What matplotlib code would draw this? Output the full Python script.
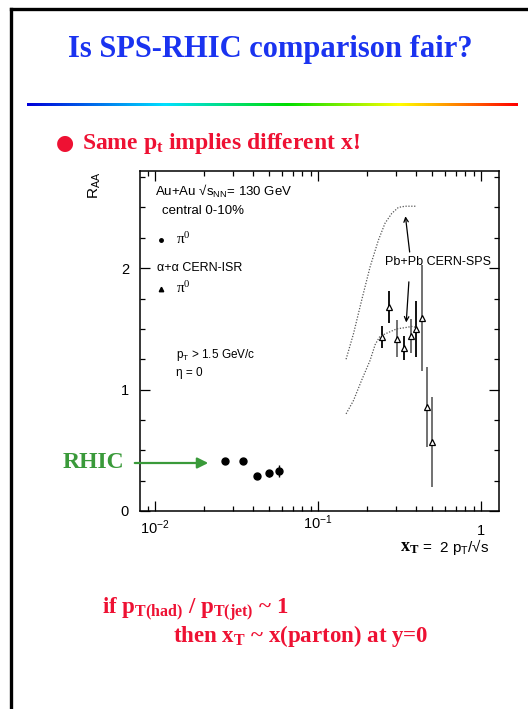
import matplotlib
matplotlib.use("Agg")
import matplotlib.pyplot as plt
import matplotlib.transforms as mtransforms
from matplotlib.lines import Line2D
from matplotlib.colors import LinearSegmentedColormap
from matplotlib.ticker import LogLocator, AutoMinorLocator, NullFormatter
import numpy as np

plt.rcParams["font.family"] = ["Liberation Sans", "DejaVu Sans"]
plt.rcParams["mathtext.fontset"] = "custom"
plt.rcParams["mathtext.rm"] = "Liberation Sans"
plt.rcParams["mathtext.it"] = "Liberation Sans:italic"
plt.rcParams["mathtext.bf"] = "Liberation Serif:bold"
plt.rcParams["mathtext.default"] = "regular"

# RHIC Au+Au (130 GeV, central 0-10%) pi0 R_AA versus x_T
rhic_xt = [0.0268, 0.0347, 0.0423, 0.0500, 0.0577]
rhic_raa = [0.41, 0.41, 0.29, 0.31, 0.33]
rhic_err = [0.01, 0.01, 0.02, 0.03, 0.05]

# Pb+Pb CERN-SPS pi0 points
sps_xt = [0.248, 0.273, 0.304, 0.337, 0.371, 0.401, 0.432, 0.467, 0.499]
sps_raa = [1.43, 1.68, 1.42, 1.34, 1.44, 1.50, 1.59, 0.86, 0.57]
sps_err = [0.09, 0.13, 0.15, 0.10, 0.14, 0.23, 0.44, 0.33, 0.37]
sps_errcol = ["k", "k", "#666666", "k", "#666666", "k", "#666666", "#666666", "#666666"]

# Dotted reference bands
upper_xt = [0.1486, 0.165, 0.1855, 0.2085, 0.2345, 0.2576, 0.283, 0.311, 0.342, 0.399]
upper_raa = [1.25, 1.46, 1.74, 2.01, 2.23, 2.37, 2.45, 2.50, 2.51, 2.51]
lower_xt = [0.1486, 0.165, 0.1855, 0.2085, 0.224, 0.240, 0.270, 0.304, 0.342, 0.376, 0.406]
lower_raa = [0.80, 0.91, 1.08, 1.24, 1.37, 1.44, 1.47, 1.50, 1.51, 1.52, 1.51]

x_ticks = [0.01, 0.1, 1]
x_ticklabels = ["$10^{-2}$", "$10^{-1}$", "1"]
y_ticks = [0, 1, 2]

W, H = 528, 709
fig = plt.figure(figsize=(W / 100, H / 100), dpi=100)


def fx(px):
    return px / W


def fy(py):
    return 1 - py / H


# slide frame
fig.add_artist(Line2D([fx(11), fx(11)], [fy(9), 0], color="black", lw=2.4,
                      transform=fig.transFigure))
fig.add_artist(Line2D([fx(11), 1], [fy(9), fy(9)], color="black", lw=2.4,
                      transform=fig.transFigure))

# title
fig.text(fx(270), fy(50), "Is SPS-RHIC comparison fair?", ha="center", va="center",
         family="Liberation Serif", weight="bold", size=22, color="#1a33f0")

# rainbow rule
rb = fig.add_axes([fx(27), fy(106), fx(491), 3 / H])
rainbow = LinearSegmentedColormap.from_list(
    "rb", [(0, "#0000d8"), (0.28, "#00e0ff"), (0.53, "#00dd00"),
           (0.76, "#ffff00"), (1.0, "#ff0000")])
rb.imshow(np.linspace(0, 1, 512)[None, :], aspect="auto", cmap=rainbow)
rb.set_axis_off()

# bullet line
red = "#ee1133"
fig.text(fx(65), fy(143), "\u25cf", ha="center", va="center", size=15, color=red,
         family="DejaVu Sans")
fig.text(fx(82), fy(143), "Same $p_t$ implies different x!", ha="left", va="center",
         family="Liberation Serif", weight="bold", size=17, color=red)

# main axes
ax = fig.add_axes([fx(140), fy(511), fx(359), 340 / H])
ax.set_xscale("log")
ax.set_xlim(10 ** -2.092, 10 ** 0.110)
ax.set_ylim(0, 2.8)
for s in ax.spines.values():
    s.set_linewidth(1.1)

ax.xaxis.set_major_locator(LogLocator(base=10, numticks=10))
ax.xaxis.set_minor_locator(LogLocator(base=10, subs=np.arange(2, 10), numticks=20))
ax.xaxis.set_major_formatter(NullFormatter())
ax.xaxis.set_minor_formatter(NullFormatter())
ax.set_yticks(y_ticks)
ax.set_yticklabels([str(v) for v in y_ticks])
ax.yaxis.set_minor_locator(AutoMinorLocator(4))
ax.tick_params(which="both", direction="in", top=True, right=True, width=0.9)
ax.tick_params(which="major", length=7)
ax.tick_params(which="minor", length=3.5)
ax.tick_params(axis="y", labelsize=10.5, pad=8)

xlab_tr = mtransforms.blended_transform_factory(ax.transData, ax.transAxes)
xlab_dy = [-0.05, -0.035, -0.06]
for xv, lab, dy in zip(x_ticks, x_ticklabels, xlab_dy):
    ax.text(xv, dy, lab, transform=xlab_tr, ha="center", va="center", size=10.5)

# data
ax.errorbar(rhic_xt, rhic_raa, yerr=rhic_err, fmt="o", ms=5, color="k",
            ecolor="k", elinewidth=1.0, capsize=0)
for xv, yv, ev, c in zip(sps_xt, sps_raa, sps_err, sps_errcol):
    ax.errorbar([xv], [yv], yerr=[ev], fmt="none", ecolor=c, elinewidth=1.3, capsize=0)
ax.plot(sps_xt, sps_raa, "^", ms=4.5, mfc="white", mec="k", mew=0.9, ls="none")
ax.plot(upper_xt, upper_raa, ls=(0, (1, 1.3)), color="#555555", lw=0.9)
ax.plot(lower_xt, lower_raa, ls=(0, (1, 1.3)), color="#555555", lw=0.9)

# legend-like annotations
ta = ax.transAxes
ax.text(0.042, 0.941, "Au+Au \u221as$_{NN}$= 130 GeV", transform=ta, ha="left",
        va="center", size=9.5)
ax.text(0.061, 0.882, "central 0-10%", transform=ta, ha="left", va="center", size=9.5)
ax.plot([0.0585], [0.797], "o", ms=2.5, color="k", transform=ta)
ax.text(0.100, 0.800, "\u03c0$^{0}$", transform=ta, ha="left", va="center", size=11,
        family="Liberation Serif")
ax.text(0.047, 0.715, "\u03b1+\u03b1 CERN-ISR", transform=ta, ha="left", va="center",
        size=9)
ax.plot([0.0585], [0.653], "^", ms=3.2, color="k", transform=ta)
ax.text(0.100, 0.656, "\u03c0$^{0}$", transform=ta, ha="left", va="center", size=11,
        family="Liberation Serif")
ax.text(0.100, 0.459, "p$_T$ > 1.5 GeV/c", transform=ta, ha="left", va="center", size=8.5)
ax.text(0.100, 0.406, "\u03b7 = 0", transform=ta, ha="left", va="center", size=8.5)

ax.text(0.2576, 2.05, "Pb+Pb CERN-SPS", ha="left", va="center", size=9)
ax.annotate("", xy=(0.342, 2.45), xytext=(0.3664, 2.11),
            arrowprops=dict(arrowstyle="->", lw=0.9, color="k", mutation_scale=8))
ax.annotate("", xy=(0.3467, 1.53), xytext=(0.3616, 1.91),
            arrowprops=dict(arrowstyle="->", lw=0.9, color="k", mutation_scale=8))

# axis titles
fig.text(fx(95), fy(185), "R$_{AA}$", rotation=90, ha="center", va="center", size=11)
fig.text(fx(400), fy(547), "x$_T$", ha="left", va="center", family="Liberation Serif",
         weight="bold", size=13)
fig.text(fx(422), fy(547), "=  2 p$_T$/\u221as", ha="left", va="center", size=11)

# RHIC label and arrow
green = "#3a9a3a"
fig.text(fx(63), fy(463), "RHIC", ha="left", va="center", family="Liberation Serif",
         weight="bold", size=17, color=green)
fig.add_artist(matplotlib.patches.FancyArrowPatch(
    (fx(132), fy(463)), (fx(211), fy(463)), transform=fig.transFigure,
    arrowstyle="-|>", mutation_scale=16, lw=1.6, color=green))

# bottom statement
fig.text(fx(102), fy(609), "if $p_{T(had)}$ / $p_{T(jet)}$ ~ 1", ha="left", va="center",
         family="Liberation Serif", weight="bold", size=16.5, color=red)
fig.text(fx(173), fy(636), "then $x_T$ ~ x(parton) at y=0", ha="left", va="center",
         family="Liberation Serif", weight="bold", size=16.5, color=red)

fig.savefig("out.png", dpi=100)
